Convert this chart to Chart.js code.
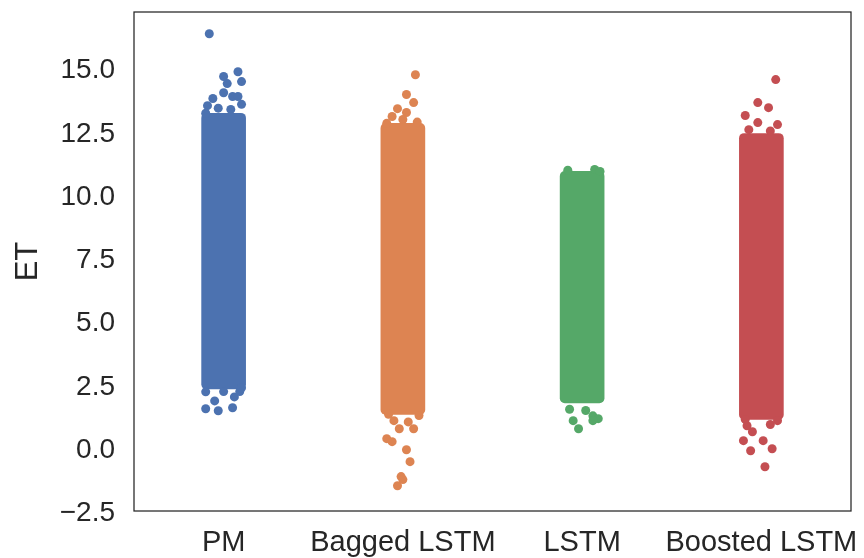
<!DOCTYPE html>
<html>
<head>
<meta charset="utf-8">
<script src="https://cdn.jsdelivr.net/npm/chart.js@4.4.1/dist/chart.umd.min.js"></script>
<style>
  html, body { margin: 0; padding: 0; background: #fff; }
  #wrap { width: 864px; height: 558px; }
</style>
</head>
<body>
<div id="wrap"><canvas id="strip"></canvas></div>
<script>
// categories + colours (seaborn "deep")
const categories = ['PM', 'Bagged LSTM', 'LSTM', 'Boosted LSTM'];
const colors = ['#4c72b0', '#dd8452', '#55a868', '#c44e52'];
const yTicks = [-2.5, 0, 2.5, 5, 7.5, 10, 12.5, 15];

// dense body of each strip: [low, high] of ET
const coreRange = [[2.3, 13.2], [1.3, 12.8], [1.75, 10.9], [1.1, 12.4]];

// sparse points (x = category index + jitter)
const pmPoints = [
  [-0.08, 16.34], [0.08, 14.84], [0.00, 14.65], [0.10, 14.45], [0.02, 14.37],
  [0.00, 14.01], [-0.06, 13.78], [0.05, 13.86], [0.08, 13.86], [-0.09, 13.5],
  [0.10, 13.55], [-0.03, 13.4], [0.04, 13.35], [-0.1, 13.2],
  [-0.10, 2.19], [-0.05, 1.83], [0.06, 1.99], [-0.10, 1.52],
  [-0.03, 1.44], [0.05, 1.56], [0.09, 2.2], [0.0, 2.2], [0.1, 2.35]
];
const baggedPoints = [
  [1.07, 14.72], [1.02, 13.94], [1.06, 13.62], [0.97, 13.38], [1.02, 13.23],
  [0.94, 13.07], [1.0, 12.95], [1.08, 12.85], [0.91, 12.8],
  [0.98, 0.73], [1.06, 0.73], [0.91, 0.34], [0.94, 0.22],
  [1.02, -0.10], [1.04, -0.57], [0.99, -1.16], [0.97, -1.52], [1.00, -1.28],
  [0.95, 1.05], [1.03, 1.0], [0.92, 1.3], [1.09, 1.25]
];
const lstmPoints = [
  [1.95, 1.05], [1.98, 0.73], [2.06, 1.24], [2.09, 1.13], [2.06, 1.05],
  [1.93, 1.5], [2.02, 1.45], [1.92, 10.95], [2.07, 10.98], [2.1, 10.9]
];
const boostedPoints = [
  [3.08, 14.53], [2.98, 13.62], [3.04, 13.42], [2.91, 13.11], [2.98, 12.83],
  [3.09, 12.75], [2.93, 12.55], [3.05, 12.5],
  [2.95, 0.61], [2.90, 0.26], [3.01, 0.26], [2.94, -0.14],
  [3.06, -0.06], [3.02, -0.77], [2.92, 0.85], [3.05, 0.9], [2.91, 1.1], [3.09, 1.05]
];
const pointSets = [pmPoints, baggedPoints, lstmPoints, boostedPoints];

const frame = {
  id: 'frame',
  afterDraw(chart) {
    const a = chart.chartArea, ctx = chart.ctx;
    ctx.save();
    ctx.strokeStyle = '#262626';
    ctx.lineWidth = 1.25;
    ctx.strokeRect(a.left, a.top, a.right - a.left, a.bottom - a.top);
    ctx.restore();
  }
};

const datasets = [{
  type: 'bar',
  data: coreRange.map((r, i) => ({ x: i, y: r })),
  backgroundColor: colors,
  barThickness: 44,
  borderRadius: 5,
  borderSkipped: false,
  order: 2
}];
pointSets.forEach((pts, i) => {
  datasets.push({
    type: 'scatter',
    data: pts.map(p => ({ x: p[0], y: p[1] })),
    backgroundColor: colors[i],
    borderWidth: 0,
    pointRadius: 4.5,
    pointHoverRadius: 4.5,
    order: 1
  });
});

Chart.defaults.font.family = '"Liberation Sans", Arial, sans-serif';
Chart.defaults.color = '#262626';

new Chart(document.getElementById('strip'), {
  data: { datasets },
  options: {
    responsive: true,
    maintainAspectRatio: false,
    animation: false,
    layout: { padding: { top: 12, right: 13, left: 0, bottom: 0 } },
    plugins: { legend: { display: false }, tooltip: { enabled: false } },
    scales: {
      x: {
        type: 'linear',
        offset: false,
        min: -0.5,
        max: 3.5,
        grid: { display: false, drawTicks: false },
        border: { display: false },
        afterBuildTicks: s => { s.ticks = categories.map((c, i) => ({ value: i })); },
        afterFit: s => { s.height = 47; s.paddingLeft = 0; s.paddingRight = 0; },
        ticks: {
          font: { size: 29 },
          padding: 15,
          maxRotation: 0,
          autoSkip: false,
          callback: v => categories[v]
        }
      },
      y: {
        min: -2.52,
        max: 17.2,
        grid: { display: false, drawTicks: false },
        border: { display: false },
        afterBuildTicks: s => { s.ticks = yTicks.map(v => ({ value: v })); },
        afterFit: s => { s.width = 134; s.paddingTop = 0; s.paddingBottom = 0; },
        title: { display: true, text: 'ET', font: { size: 31 }, padding: { top: 10, bottom: 0 } },
        ticks: {
          font: { size: 28 },
          padding: 19,
          labelOffset: 3,
          callback: v => v.toFixed(1).replace('-', '\u2212')
        }
      }
    }
  },
  plugins: [frame]
});
</script>
</body>
</html>
